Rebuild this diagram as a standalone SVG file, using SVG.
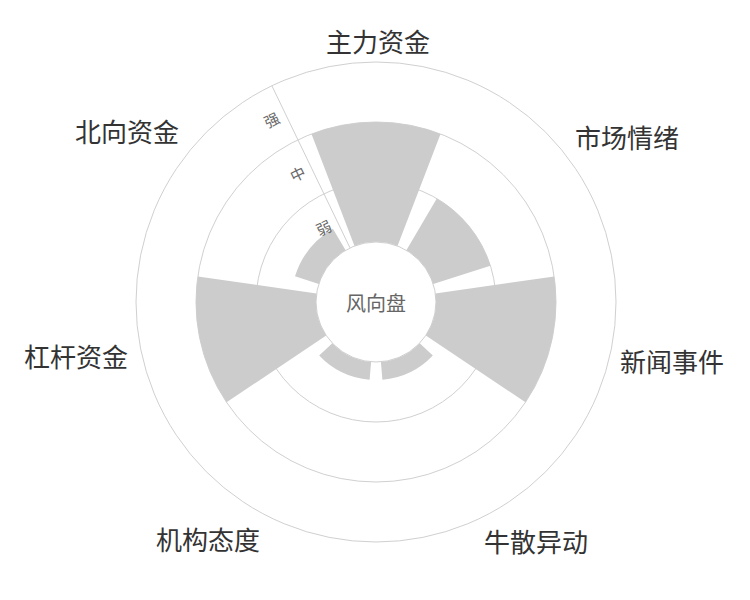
<svg xmlns="http://www.w3.org/2000/svg" width="750" height="600" viewBox="0 0 750 600">
<style>
.grid{fill:none;stroke:#d0d0d0;stroke-width:1}
.bar{fill:#cccccc}
.cat{font-family:"Noto Sans CJK SC","Noto Sans",sans-serif;font-size:26px;fill:#333;text-anchor:middle;dominant-baseline:central}
.ax{font-family:"Noto Sans CJK SC",sans-serif;font-size:15px;fill:#666;text-anchor:middle;dominant-baseline:central}
</style>
<rect width="750" height="600" fill="#fff"/>
<g id="grid">
<circle class="grid" cx="376" cy="302" r="240"/>
<circle class="grid" cx="376" cy="302" r="180"/>
<circle class="grid" cx="376" cy="302" r="120"/>
<circle class="grid" cx="376" cy="302" r="60"/>
</g>
<g id="bars">
<path id="b1" class="bar" d="M311.5,134 A180,180 0 0 1 440.5,134 L397.5,246 A60,60 0 0 0 354.5,246 Z"/>
<path id="b2" class="bar" d="M436.8,198.5 A120,120 0 0 1 490.4,265.8 L433.2,283.9 A60,60 0 0 0 406.4,250.3 Z"/>
<path id="b3" class="bar" d="M554.2,276.5 A180,180 0 0 1 525.4,402.3 L425.8,335.4 A60,60 0 0 0 435.4,293.5 Z"/>
<path id="b4" class="bar" d="M432.8,355.5 A78,78 0 0 1 382.4,379.7 L380.9,361.8 A60,60 0 0 0 419.7,343.2 Z"/>
<path id="b5" class="bar" d="M369.6,379.7 A78,78 0 0 1 319.2,355.5 L332.3,343.2 A60,60 0 0 0 371.1,361.8 Z"/>
<path id="b6" class="bar" d="M226.6,402.3 A180,180 0 0 1 197.8,276.5 L316.6,293.5 A60,60 0 0 0 326.2,335.4 Z"/>
<path id="b7" class="bar" d="M295,276.3 A85,85 0 0 1 332.9,228.7 L345.6,250.3 A60,60 0 0 0 318.8,283.9 Z"/>
</g>
<g id="axis">
<line class="grid" x1="350" y1="247.9" x2="271.9" y2="85.8"/>
<text class="ax" transform="translate(271.4,119.3) rotate(-25.7)">强</text>
<text class="ax" transform="translate(297.4,173.4) rotate(-25.7)">中</text>
<text class="ax" transform="translate(323.5,227.4) rotate(-25.7)">弱</text>
</g>
<g id="center"><text x="376" y="302" style="font-family:'Noto Sans CJK SC',sans-serif;font-size:20px;fill:#666;text-anchor:middle;dominant-baseline:central">风向盘</text></g>
<g id="labels">
<text class="cat" x="378" y="40">主力资金</text>
<text class="cat" x="627" y="136">市场情绪</text>
<text class="cat" x="672" y="360">新闻事件</text>
<text class="cat" x="536" y="540">牛散异动</text>
<text class="cat" x="208" y="538">机构态度</text>
<text class="cat" x="76" y="355">杠杆资金</text>
<text class="cat" x="127" y="130">北向资金</text>
</g>
</svg>
